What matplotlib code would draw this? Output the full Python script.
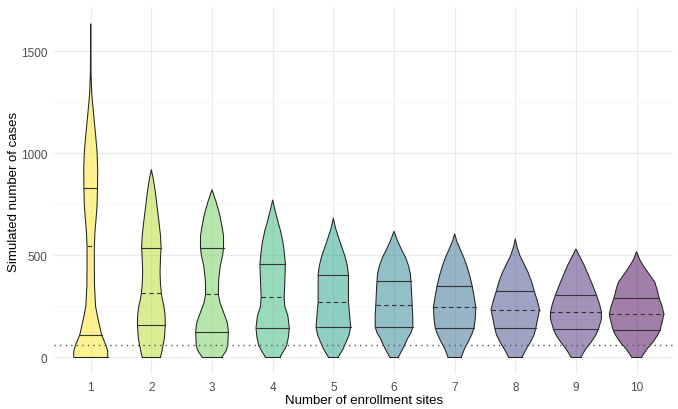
import numpy as np
import matplotlib
matplotlib.use("Agg")
import matplotlib.pyplot as plt

plt.rcParams['font.family'] = ['Liberation Sans', 'DejaVu Sans']

# Number of enrollment sites
sites = [1, 2, 3, 4, 5, 6, 7, 8, 9, 10]

# Violin outlines: case levels and half widths (in category units)
violin_y = [
    [0, 30, 60, 110, 150, 190, 250, 350, 450, 546, 614, 678, 744, 830, 923, 1006, 1087, 1169, 1250, 1300, 1400, 1635],
    [0, 24, 90, 160, 210, 252, 285, 315, 360, 418, 480, 538, 600, 678, 750, 809, 870, 920],
    [0, 30, 57, 126, 172, 237, 270, 309, 380, 449, 500, 535, 596, 650, 695, 760, 822],
    [0, 57, 100, 144, 204, 250, 294, 368, 458, 520, 564, 620, 662, 720, 771],
    [0, 40, 74, 110, 149, 204, 273, 340, 405, 450, 498, 540, 580, 630, 682],
    [0, 50, 90, 120, 149, 200, 256, 320, 373, 410, 449, 490, 531, 570, 618],
    [0, 40, 74, 110, 144, 190, 245, 300, 348, 400, 449, 490, 531, 565, 605],
    [0, 40, 74, 110, 144, 190, 233, 280, 327, 370, 417, 460, 498, 540, 580],
    [0, 40, 74, 110, 137, 188, 221, 260, 307, 350, 400, 449, 490, 531],
    [0, 40, 74, 110, 132, 170, 212, 250, 292, 330, 368, 410, 449, 480, 518],
]
violin_w = [
    [0.28, 0.28, 0.25, 0.18, 0.15, 0.12, 0.08, 0.063, 0.06, 0.06, 0.07, 0.088, 0.105, 0.112, 0.115, 0.105, 0.082, 0.055, 0.03, 0.016, 0.005, 0.0],
    [0.15, 0.17, 0.214, 0.23, 0.225, 0.206, 0.18, 0.165, 0.15, 0.143, 0.15, 0.16, 0.15, 0.12, 0.09, 0.066, 0.035, 0.0],
    [0.16, 0.23, 0.26, 0.27, 0.25, 0.17, 0.13, 0.105, 0.11, 0.137, 0.175, 0.19, 0.19, 0.16, 0.13, 0.07, 0.0],
    [0.12, 0.23, 0.26, 0.275, 0.25, 0.2, 0.19, 0.2, 0.21, 0.19, 0.17, 0.13, 0.09, 0.04, 0.0],
    [0.08, 0.16, 0.21, 0.26, 0.285, 0.27, 0.25, 0.25, 0.25, 0.23, 0.19, 0.14, 0.094, 0.04, 0.0],
    [0.07, 0.16, 0.22, 0.28, 0.31, 0.31, 0.3, 0.29, 0.28, 0.27, 0.24, 0.19, 0.12, 0.06, 0.0],
    [0.11, 0.16, 0.22, 0.28, 0.32, 0.34, 0.35, 0.32, 0.29, 0.25, 0.2, 0.15, 0.09, 0.04, 0.0],
    [0.11, 0.18, 0.25, 0.31, 0.34, 0.37, 0.4, 0.36, 0.31, 0.27, 0.21, 0.14, 0.077, 0.03, 0.0],
    [0.08, 0.16, 0.25, 0.33, 0.37, 0.42, 0.42, 0.39, 0.335, 0.28, 0.21, 0.14, 0.07, 0.0],
    [0.08, 0.17, 0.27, 0.35, 0.385, 0.42, 0.45, 0.42, 0.37, 0.34, 0.3, 0.2, 0.11, 0.05, 0.0],
]

# Quartiles of simulated cases
q25 = [108, 160, 126, 144, 149, 149, 144, 144, 137, 132]
q50 = [546, 315, 309, 294, 273, 256, 245, 233, 221, 212]
q75 = [832, 538, 535, 458, 405, 373, 348, 327, 307, 292]

threshold = 60

colors = plt.cm.viridis(np.linspace(1, 0, len(sites)))

fig = plt.figure(figsize=(6.78, 4.1), dpi=100)
ax = fig.add_axes([0.0801, 0.0854, 0.9125, 0.8946])

for i, s in enumerate(sites):
    ys = np.array(violin_y[i], dtype=float)
    ws = np.array(violin_w[i], dtype=float)
    xs = np.concatenate([s - ws, (s + ws)[::-1]])
    yy = np.concatenate([ys, ys[::-1]])
    ax.fill(xs, yy, facecolor=colors[i], alpha=0.5, edgecolor='none', zorder=2)
    ax.plot(xs, yy, color='#222222', lw=0.75, zorder=3)
    ax.plot([s - ws[0], s + ws[0]], [0, 0], color='#222222', lw=0.75, zorder=3)
    for q, ls in [(q25[i], '-'), (q50[i], (0, (4, 3))), (q75[i], '-')]:
        hw = np.interp(q, ys, ws)
        ax.plot([s - hw, s + hw], [q, q], color='#333333', lw=0.8, linestyle=ls, zorder=4)

ax.axhline(threshold, color='#555555', lw=1.0, linestyle=(0, (1, 3)), zorder=5)

ax.set_xlim(0.4, 10.6)
ax.set_ylim(-82, 1717)
ax.set_xticks(sites)
ax.set_xticklabels([str(s) for s in sites])
ax.set_yticks([0, 500, 1000, 1500])
ax.set_yticks([250, 750, 1250], minor=True)

ax.grid(which='major', color='#ebebeb', lw=0.8, zorder=0)
ax.grid(which='minor', axis='y', color='#f4f4f4', lw=0.5, zorder=0)
ax.set_axisbelow(True)
for sp in ax.spines.values():
    sp.set_visible(False)
ax.tick_params(which='both', length=0, labelsize=8.5, labelcolor='#4d4d4d', pad=5)

ax.set_xlabel("Number of enrollment sites", fontsize=9.5, labelpad=1)
ax.set_ylabel("Simulated number of cases", fontsize=9.5, labelpad=0.5)

fig.savefig("out.png", dpi=100)
